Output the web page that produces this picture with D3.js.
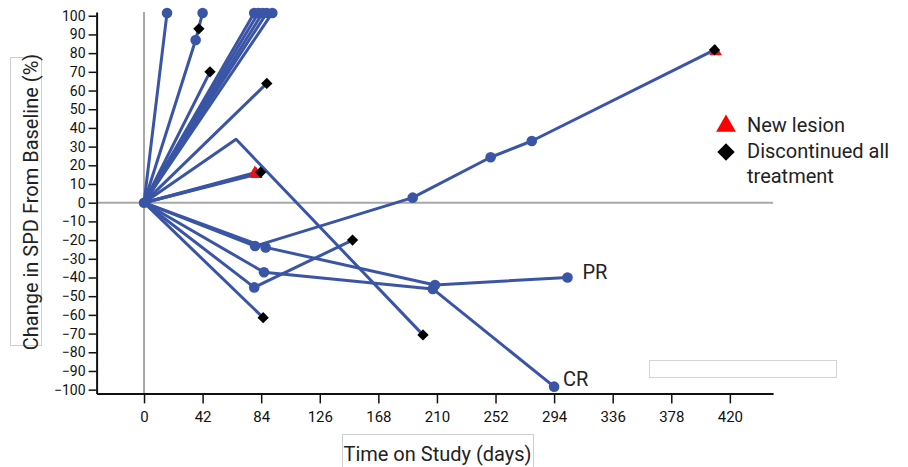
<!DOCTYPE html>
<html><head><meta charset="utf-8">
<script src="https://cdn.jsdelivr.net/npm/d3@7"></script>
<style>
html,body{margin:0;padding:0;background:#fff;}
svg{display:block;font-family:Roboto,"Noto Sans",sans-serif;}
</style></head>
<body>
<svg id="chart" width="908" height="467"></svg>
<script>
// ---- data ----
const xTickValues = [0, 42, 84, 126, 168, 210, 252, 294, 336, 378, 420];
const yTickValues = [-100,-90,-80,-70,-60,-50,-40,-30,-20,-10,0,10,20,30,40,50,60,70,80,90,100];

// each patient: [day, % change]
const pt01 = [[0,0],[16.5,101.5]];
const pt02 = [[0,0],[37,87],[42,101.5]];
const pt03 = [[0,0],[47.3,70]];
const pt04 = [[0,0],[79,101.5]];
const pt05 = [[0,0],[82,101.5]];
const pt06 = [[0,0],[85,101.5]];
const pt07 = [[0,0],[88,101.5]];
const pt08 = [[0,0],[92,101.5]];
const pt09 = [[0,0],[88,63.8]];
const pt10 = [[0,0],[66,33.9],[200,-70.7]];
const pt11 = [[0,0],[79.5,16]];
const pt12 = [[0,0],[83.6,16.3]];
const pt13 = [[0,0],[80.5,15.2]];
const pt14 = [[0,0],[79.6,-23.2],[192.6,2.7],[248.5,24.3],[278,33],[409,81.7]];
const pt15 = [[0,0],[87.2,-23.9],[208.6,-44],[303.6,-40]];
const pt16 = [[0,0],[86,-37.2],[207,-46.1],[294,-98.4]];
const pt17 = [[0,0],[79,-45.3],[149.5,-20]];
const pt18 = [[0,0],[85.4,-61.5]];
const patients = [pt01,pt02,pt03,pt04,pt05,pt06,pt07,pt08,pt09,pt10,pt11,pt12,pt13,pt14,pt15,pt16,pt17,pt18];

// assessment markers
const circlePts = [[0,0],[16.5,101.5],[37,87],[42,101.5],[79,101.5],[82,101.5],[85,101.5],[88,101.5],[92,101.5],
  [79.6,-23.2],[192.6,2.7],[248.5,24.3],[278,33],
  [87.2,-23.9],[208.6,-44],[303.6,-40],
  [86,-37.2],[207,-46.1],[294,-98.4],
  [79,-45.3]];
const newLesionPts = [[79.5,16],[80.5,15.2],[409.8,80.8]];
const discontinuedPts = [[39.3,93],[47.3,70],[88,63.8],[200,-70.7],[83.6,16.3],[409,81.7],[149.5,-20],[85.4,-61.5]];

const responseLabels = [{text:"PR", at:[303.6,-40]}, {text:"CR", at:[294,-98.4]}];
const legendItems = ["New lesion", "Discontinued all", "treatment"];

// ---- chart ----
const blue = "#3a55a6";
const labelOffset = {PR: [15, 2], CR: [9, -1]};
const svg = d3.select("#chart");
const x = d3.scaleLinear().domain([-34, 451]).range([96.6, 773.1]);
const y = d3.scaleLinear().domain([-102, 102]).range([393.4, 12]);

// zero reference lines
svg.append("line").attr("x1", x(-34)).attr("x2", x(451)).attr("y1", y(0)).attr("y2", y(0))
  .attr("stroke", "#a8a8a8").attr("stroke-width", 2);
svg.append("line").attr("x1", x(0)).attr("x2", x(0)).attr("y1", y(102)).attr("y2", y(-102))
  .attr("stroke", "#a8a8a8").attr("stroke-width", 2);

// axes
const yAxis = svg.append("g").attr("transform", `translate(${x(-34)},0)`)
  .call(d3.axisLeft(y).tickValues(yTickValues).tickSize(8).tickPadding(3).tickSizeOuter(0));
const xAxis = svg.append("g").attr("transform", `translate(0,${y(-102)})`)
  .call(d3.axisBottom(x).tickValues(xTickValues).tickSize(10).tickPadding(8).tickSizeOuter(0));
[yAxis, xAxis].forEach(g => {
  g.select(".domain").attr("stroke", "#111").attr("stroke-width", 2);
  g.selectAll(".tick line").attr("stroke", "#111").attr("stroke-width", 1.5);
  g.selectAll("text").attr("fill", "#111").attr("font-family", "Roboto, sans-serif");
});
yAxis.selectAll("text").attr("font-size", 14);
xAxis.selectAll("text").attr("font-size", 15);

// axis titles with boxes
svg.append("rect").attr("x", 10.5).attr("y", 57.5).attr("width", 31).attr("height", 288)
  .attr("fill", "none").attr("stroke", "#cfcfcf");
svg.append("text").attr("transform", "translate(37.5,202) rotate(-90)").attr("text-anchor", "middle")
  .attr("font-size", 20).attr("fill", "#222").text("Change in SPD From Baseline (%)");
svg.append("rect").attr("x", 342.5).attr("y", 434.5).attr("width", 191).attr("height", 40)
  .attr("fill", "none").attr("stroke", "#cfcfcf");
svg.append("text").attr("x", 437.5).attr("y", 461).attr("text-anchor", "middle")
  .attr("font-size", 20).attr("fill", "#222").text("Time on Study (days)");

// empty box
svg.append("rect").attr("x", 649.5).attr("y", 360.5).attr("width", 187).attr("height", 17)
  .attr("fill", "#fff").attr("stroke", "#d4d4d4");

// patient lines
const line = d3.line().x(d => x(d[0])).y(d => y(d[1]));
svg.append("g").selectAll("path").data(patients).join("path")
  .attr("d", line).attr("fill", "none").attr("stroke", blue).attr("stroke-width", 3)
  .attr("stroke-linejoin", "round").attr("stroke-linecap", "round");

// circles
svg.append("g").selectAll("circle").data(circlePts).join("circle")
  .attr("cx", d => x(d[0])).attr("cy", d => y(d[1])).attr("r", 5.3).attr("fill", blue);

// new lesion triangles
const tri = d3.symbol().type(d3.symbolTriangle).size(70);
svg.append("g").selectAll("path").data(newLesionPts).join("path")
  .attr("d", tri).attr("transform", d => `translate(${x(d[0])},${y(d[1])})`).attr("fill", "#e8141a");

// discontinued diamonds
const dia = d3.symbol().type(d3.symbolSquare).size(64);
svg.append("g").selectAll("path").data(discontinuedPts).join("path")
  .attr("d", dia).attr("transform", d => `translate(${x(d[0])},${y(d[1])}) rotate(45)`).attr("fill", "#000");

// response labels
svg.append("g").selectAll("text").data(responseLabels).join("text")
  .attr("x", d => x(d.at[0]) + labelOffset[d.text][0]).attr("y", d => y(d.at[1]) + labelOffset[d.text][1])
  .attr("font-size", 20).attr("fill", "#222").text(d => d.text);

// legend
const lg = svg.append("g");
lg.append("path").attr("d", d3.symbol().type(d3.symbolTriangle).size(170))
  .attr("transform", "translate(726,126)").attr("fill", "#f00");
lg.append("path").attr("d", d3.symbol().type(d3.symbolSquare).size(150))
  .attr("transform", "translate(726,152) rotate(45)").attr("fill", "#000");
lg.selectAll("text").data(legendItems).join("text")
  .attr("x", 747).attr("y", (d, i) => [132, 158, 183][i])
  .attr("font-size", 20).attr("fill", "#222").text(d => d);
</script>
</body></html>
